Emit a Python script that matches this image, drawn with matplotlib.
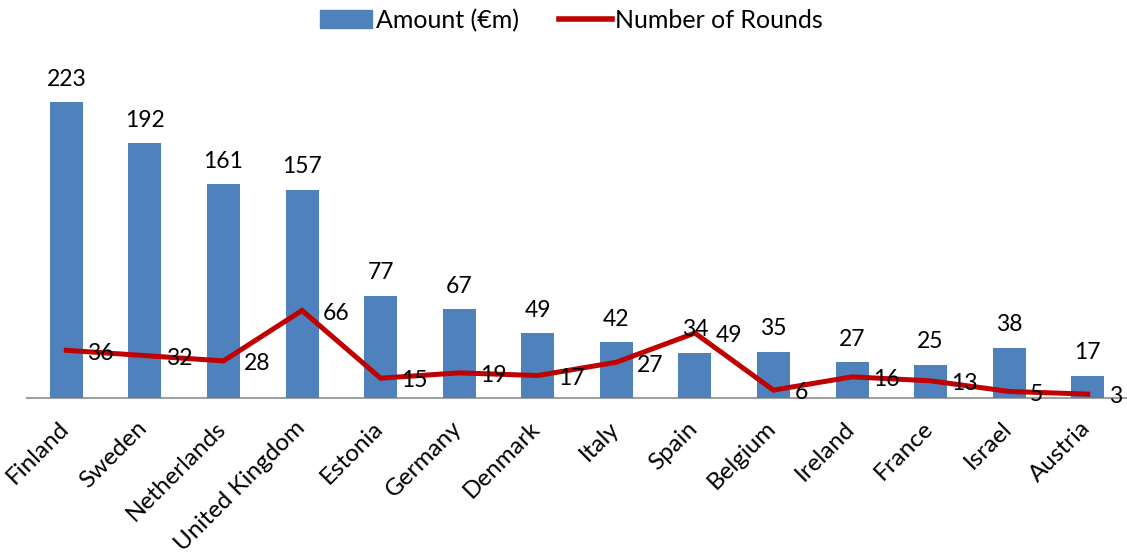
import numpy as np
import matplotlib.pyplot as plt
from matplotlib.patches import Patch
from matplotlib.lines import Line2D
from matplotlib.transforms import ScaledTranslation

plt.rcParams['font.family'] = ['Lato', 'DejaVu Sans']

countries = ['Finland', 'Sweden', 'Netherlands', 'United Kingdom', 'Estonia',
             'Germany', 'Denmark', 'Italy', 'Spain', 'Belgium', 'Ireland',
             'France', 'Israel', 'Austria']
amount = [223, 192, 161, 157, 77, 67, 49, 42, 34, 35, 27, 25, 38, 17]
rounds = [36, 32, 28, 66, 15, 19, 17, 27, 49, 6, 16, 13, 5, 3]

fig = plt.figure(figsize=(11.27, 5.56), dpi=100)
ax = fig.add_axes([0.024, 0.284, 0.976, 0.597])

x = np.arange(len(countries))
bar_col = '#4F81BD'
line_col = '#C00000'
fs = 16.5

ax.bar(x, amount, width=0.42, color=bar_col, zorder=2)
ax.plot(x, rounds, color=line_col, lw=3.6, zorder=3, solid_joinstyle='miter')

# value labels: amounts above the bars, rounds to the right of the line points
for xi, v in zip(x, amount):
    ax.annotate(str(v), (xi, v), xytext=(0, 9), textcoords='offset points',
                ha='center', va='bottom', fontsize=fs, zorder=4)
for xi, v in zip(x, rounds):
    ax.annotate(str(v), (xi, v), xytext=(15, -2), textcoords='offset points',
                ha='left', va='center', fontsize=fs, zorder=4)

ax.set_xlim(-0.5, len(countries) - 0.5)
ax.set_ylim(0, 250)
ax.set_yticks([])
ax.set_xticks(x)
ax.set_xticklabels(countries, rotation=45, ha='right', rotation_mode='anchor',
                   fontsize=17.5)
ax.tick_params(axis='x', length=0, pad=14)
shift = ScaledTranslation(-6 / 72, 0, fig.dpi_scale_trans)
for lab in ax.get_xticklabels():
    lab.set_transform(lab.get_transform() + shift)
for s in ['top', 'right', 'left']:
    ax.spines[s].set_visible(False)
ax.spines['bottom'].set_color('#A0A0A0')
ax.spines['bottom'].set_linewidth(1.5)
ax.spines['bottom'].set_zorder(1)

handles = [Patch(color=bar_col), Line2D([], [], color=line_col, lw=4)]
fig.legend(handles, ['Amount (€m)', 'Number of Rounds'], loc='upper center',
           bbox_to_anchor=(0.507, 1.025), ncol=2, frameon=False, fontsize=18,
           handlelength=2.1, handletextpad=0.15, columnspacing=1.6)

fig.savefig('out.png', dpi=100)
